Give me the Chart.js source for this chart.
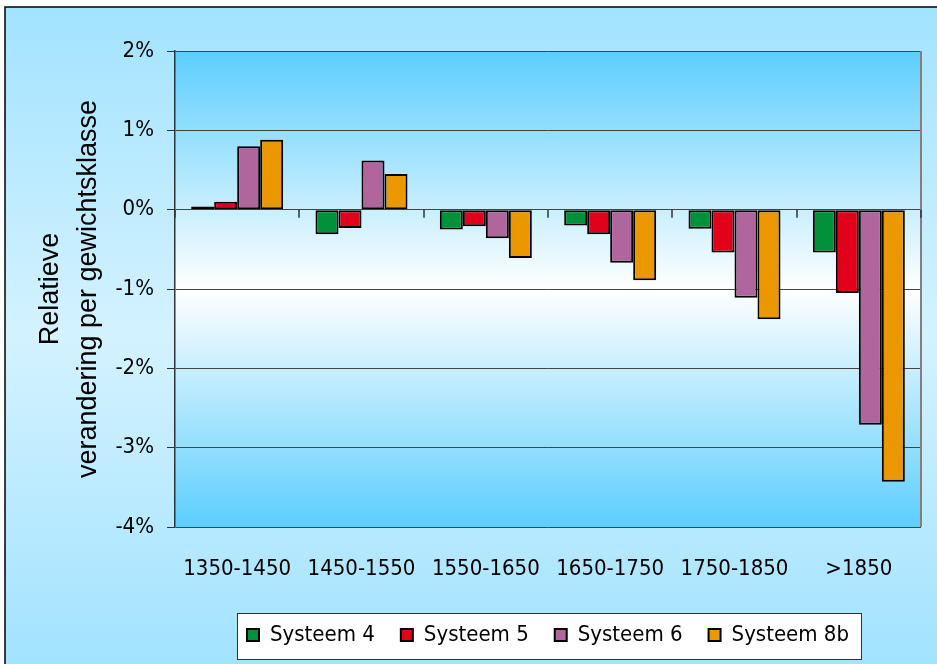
<!DOCTYPE html>
<html>
<head>
<meta charset="utf-8">
<script src="https://cdn.jsdelivr.net/npm/chart.js@4"></script>
<style>
  html, body { margin: 0; padding: 0; background: #fff; }
  #wrap { width: 937px; height: 664px; }
</style>
</head>
<body>
<div id="wrap"><canvas id="chart" width="937" height="664"></canvas></div>
<script>
// data (percent)
const categories = ["1350-1450", "1450-1550", "1550-1650", "1650-1750", "1750-1850", ">1850"];
const systeem4 = [0.04, -0.31, -0.25, -0.2, -0.24, -0.54];
const systeem5 = [0.1, -0.23, -0.21, -0.31, -0.54, -1.05];
const systeem6 = [0.8, 0.62, -0.36, -0.67, -1.11, -2.71];
const systeem8b = [0.88, 0.45, -0.61, -0.89, -1.38, -3.43];
const seriesNames = ["Systeem 4", "Systeem 5", "Systeem 6", "Systeem 8b"];
const seriesColors = ["#00913a", "#e3001b", "#b0669d", "#eb9700"];

// background, plot gradient, frame, legend box
const backdrop = {
    id: "backdrop",
    beforeDraw(chart) {
        const { ctx, width, height, chartArea: a } = chart;
        ctx.save();
        // outer panel
        const g = ctx.createLinearGradient(0, 7, 0, height);
        g.addColorStop(0, "#a2e3fe");
        g.addColorStop(0.5, "#d4f2ff");
        g.addColorStop(1, "#a2e3fe");
        ctx.fillStyle = g;
        ctx.fillRect(5, 7, width - 5, height - 7);
        ctx.strokeStyle = "#000";
        ctx.lineWidth = 1.5;
        ctx.beginPath();
        ctx.moveTo(5, height);
        ctx.lineTo(5, 7);
        ctx.lineTo(width, 7);
        ctx.stroke();

        // plot area
        const pg = ctx.createLinearGradient(0, a.top, 0, a.bottom);
        pg.addColorStop(0, "#5ccefe");
        pg.addColorStop(0.5, "#ffffff");
        pg.addColorStop(1, "#5ccefe");
        ctx.fillStyle = pg;
        ctx.fillRect(a.left, a.top, a.right - a.left, a.bottom - a.top);

        // legend frame
        const hb = chart.legend.legendHitBoxes;
        if (hb && hb.length) {
            const last = hb[hb.length - 1];
            const x0 = hb[0].left - 10;
            const x1 = last.left + last.width + 12;
            const y0 = hb[0].top + hb[0].height / 2 - 22;
            const y1 = y0 + 46;
            ctx.fillStyle = "#fff";
            ctx.fillRect(x0, y0, x1 - x0, y1 - y0);
            ctx.strokeStyle = "#333";
            ctx.lineWidth = 1;
            ctx.strokeRect(x0 + 0.5, y0 + 0.5, x1 - x0, y1 - y0);
        }
        ctx.restore();
    },
    beforeDatasetsDraw(chart) {
        const { ctx, chartArea: a, scales } = chart;
        const x = scales.x, y = scales.y;
        const y0 = y.getPixelForValue(0);
        ctx.save();
        // right border of plot
        ctx.strokeStyle = "#808080";
        ctx.lineWidth = 2;
        ctx.beginPath();
        ctx.moveTo(a.right, a.top);
        ctx.lineTo(a.right, a.bottom);
        ctx.stroke();
        // category ticks on the zero line
        ctx.strokeStyle = "#333";
        ctx.lineWidth = 1.5;
        ctx.beginPath();
        for (let i = 0; i <= categories.length; i++) {
            const px = Math.round(x.getPixelForValue(i - 0.5));
            ctx.moveTo(px, y0);
            ctx.lineTo(px, y0 + 8);
        }
        ctx.stroke();
        ctx.restore();
    }
};

new Chart(document.getElementById("chart"), {
    type: "bar",
    data: {
        labels: categories,
        datasets: [systeem4, systeem5, systeem6, systeem8b].map((d, i) => ({
            label: seriesNames[i],
            data: d,
            backgroundColor: seriesColors[i],
            borderColor: "#000",
            borderWidth: 2,
            borderSkipped: false,
            categoryPercentage: 0.74,
            barPercentage: 1.0,
        })),
    },
    options: {
        responsive: false,
        animation: false,
        devicePixelRatio: 1,
        layout: { padding: { top: 51, right: 16, bottom: 8, left: 0 } },
        plugins: {
            tooltip: { enabled: false },
            legend: {
                position: "bottom",
                fullSize: false,
                labels: {
                    boxWidth: 12,
                    boxHeight: 12,
                    padding: 26,
                    color: "#000",
                    font: { family: "'DejaVu Sans Condensed', 'DejaVu Sans', sans-serif", size: 22 },
                },
            },
        },
        scales: {
            x: {
                grid: { display: false },
                border: { display: false },
                ticks: {
                    color: "#000",
                    padding: 21,
                    font: { family: "'DejaVu Sans Condensed', 'DejaVu Sans', sans-serif", size: 22 },
                },
                afterFit: (s) => { s.height = 71; },
            },
            y: {
                min: -4,
                max: 2,
                ticks: {
                    stepSize: 1,
                    color: "#000",
                    padding: 13,
                    font: { family: "'DejaVu Sans Condensed', 'DejaVu Sans', sans-serif", size: 22 },
                    callback: (v) => v + "%",
                },
                grid: { color: "#444", lineWidth: 1, tickLength: 8, tickColor: "#333" },
                border: { color: "#333", width: 1.5 },
                title: {
                    display: true,
                    text: ["Relatieve", "verandering per gewichtsklasse"],
                    color: "#000",
                    padding: { top: 31, bottom: 0 },
                    font: { family: "'Liberation Sans', Arial, sans-serif", size: 27, lineHeight: 1.42 },
                },
                afterFit: (s) => { s.width = 175; },
            },
        },
    },
    plugins: [backdrop],
});
</script>
</body>
</html>
